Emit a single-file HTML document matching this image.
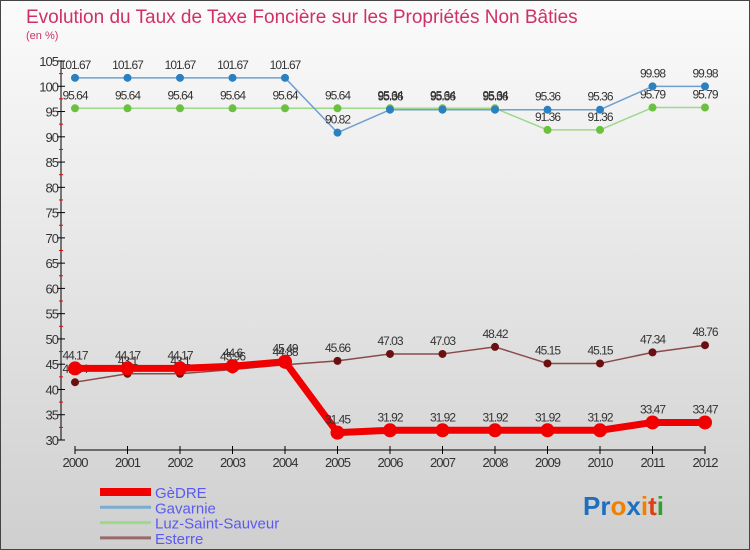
<!DOCTYPE html>
<html><head><meta charset="utf-8"><style>
body{margin:0}
#c{width:750px;height:550px;position:relative;overflow:hidden;font-family:"Liberation Sans",sans-serif}
</style></head><body>
<div id="c">
<svg id="s" width="750" height="550" xmlns="http://www.w3.org/2000/svg">
<defs><linearGradient id="bg" x1="0" y1="0" x2="0" y2="1"><stop offset="0" stop-color="#fbfbfb"/><stop offset="1" stop-color="#cfcfcf"/></linearGradient></defs>
<rect x="0.5" y="0.5" width="749" height="549" fill="url(#bg)" stroke="#444"/>
<text x="26" y="23" font-size="19" fill="#d0306a">Evolution du Taux de Taxe Foncière sur les Propriétés Non Bâties</text>
<text x="26" y="39" font-size="11" fill="#d0306a">(en %)</text>
<g id="axes"></g><g id="series"></g><g id="legend"></g>
<text x="583" y="515" font-size="26" font-weight="bold"><tspan fill="#1f6fc0">Pr</tspan><tspan fill="#f08000">o</tspan><tspan fill="#1f6fc0">x</tspan><tspan fill="#f08000">i</tspan><tspan fill="#e04010">t</tspan><tspan fill="#30a030">i</tspan></text>
</svg></div>
<script>
const years=[2000,2001,2002,2003,2004,2005,2006,2007,2008,2009,2010,2011,2012];
const gedre=[44.17,44.17,44.17,44.6,45.49,31.45,31.92,31.92,31.92,31.92,31.92,33.47,33.47];
const gavarnie=[101.67,101.67,101.67,101.67,101.67,90.82,95.36,95.36,95.36,95.36,95.36,99.98,99.98];
const luz=[95.64,95.64,95.64,95.64,95.64,95.64,95.64,95.64,95.64,91.36,91.36,95.79,95.79];
const esterre=[41.44,43.1,43.1,43.96,44.88,45.66,47.03,47.03,48.42,45.15,45.15,47.34,48.76];
const yTicks=[30,35,40,45,50,55,60,65,70,75,80,85,90,95,100,105];
const NS="http://www.w3.org/2000/svg";
const X=i=>75+i*52.5, Y=v=>440-(v-30)*(379/75);
function mk(t,a,p){const e=document.createElementNS(NS,t);for(const k in a)e.setAttribute(k,a[k]);p.appendChild(e);return e;}
const ax=document.getElementById('axes');
let yl=mk('line',{x1:61,y1:Y(105),x2:61,y2:Y(30),stroke:'#000'},ax);


yTicks.forEach(v=>{
 mk('line',{x1:57,y1:Y(v),x2:65,y2:Y(v),stroke:'#000'},ax);
 if(v<105) mk('line',{x1:59,y1:Y(v+2.5),x2:63,y2:Y(v+2.5),stroke:'#e00'},ax);
 const t=mk('text',{x:58,y:Y(v)+5,'font-size':13,fill:'#333','text-anchor':'end','letter-spacing':'-1'},ax);
 
 
 t.textContent=v;
});
let xl=mk('line',{x1:X(0),y1:450,x2:X(12),y2:450,stroke:'#000'},ax);


years.forEach((y,i)=>{
 mk('line',{x1:X(i),y1:446,x2:X(i),y2:454,stroke:'#000'},ax);
 const t=mk('text',{x:X(i),y:467,'font-size':13,fill:'#333','text-anchor':'middle','letter-spacing':'-1'},ax);
 
 
 t.textContent=y;
});
const sg=document.getElementById('series');
function series(name,data,col,w,r,dot){
 const g=mk('g',{},sg);
 
 
 const pts=data.map((v,i)=>X(i)+','+Y(v)).join(' ');
 mk('polyline',{points:pts,fill:'none',stroke:col,'stroke-width':w,'stroke-linejoin':'round'},g);
 data.forEach((v,i)=>{
  const c=mk('circle',{cx:X(i),cy:Y(v),r:r,fill:dot},g);
  
  
  const t=mk('text',{x:X(i),y:Y(v)-9,'font-size':12,fill:'#333','text-anchor':'middle','letter-spacing':'-1'},g);
  
  
  t.textContent=v;
 });
}
series('esterre',esterre,'#8b4a4a',1.5,4,'#6b1010');
series('luz',luz,'#9ed88a',1.5,4,'#6cc040');
series('gavarnie',gavarnie,'#6fa0d0',1.5,4,'#2a80c0');
series('gedre',gedre,'#f00000',7,7,'#f00000');
const lg=document.getElementById('legend');
[['GèDRE','#f00000',8],['Gavarnie','#7aaed0',3],['Luz-Saint-Sauveur','#9ed88a',3],['Esterre','#9a6a6a',3]].forEach((e,i)=>{
 const y=492+i*15.3;
 const l=mk('line',{x1:100,y1:y,x2:151,y2:y,stroke:e[1],'stroke-width':e[2]},lg);
 
 
 const t=mk('text',{x:155,y:y+6,'font-size':15,fill:'#5a5af0'},lg);
 
 
 t.textContent=e[0];
});
</script>
</body></html>
